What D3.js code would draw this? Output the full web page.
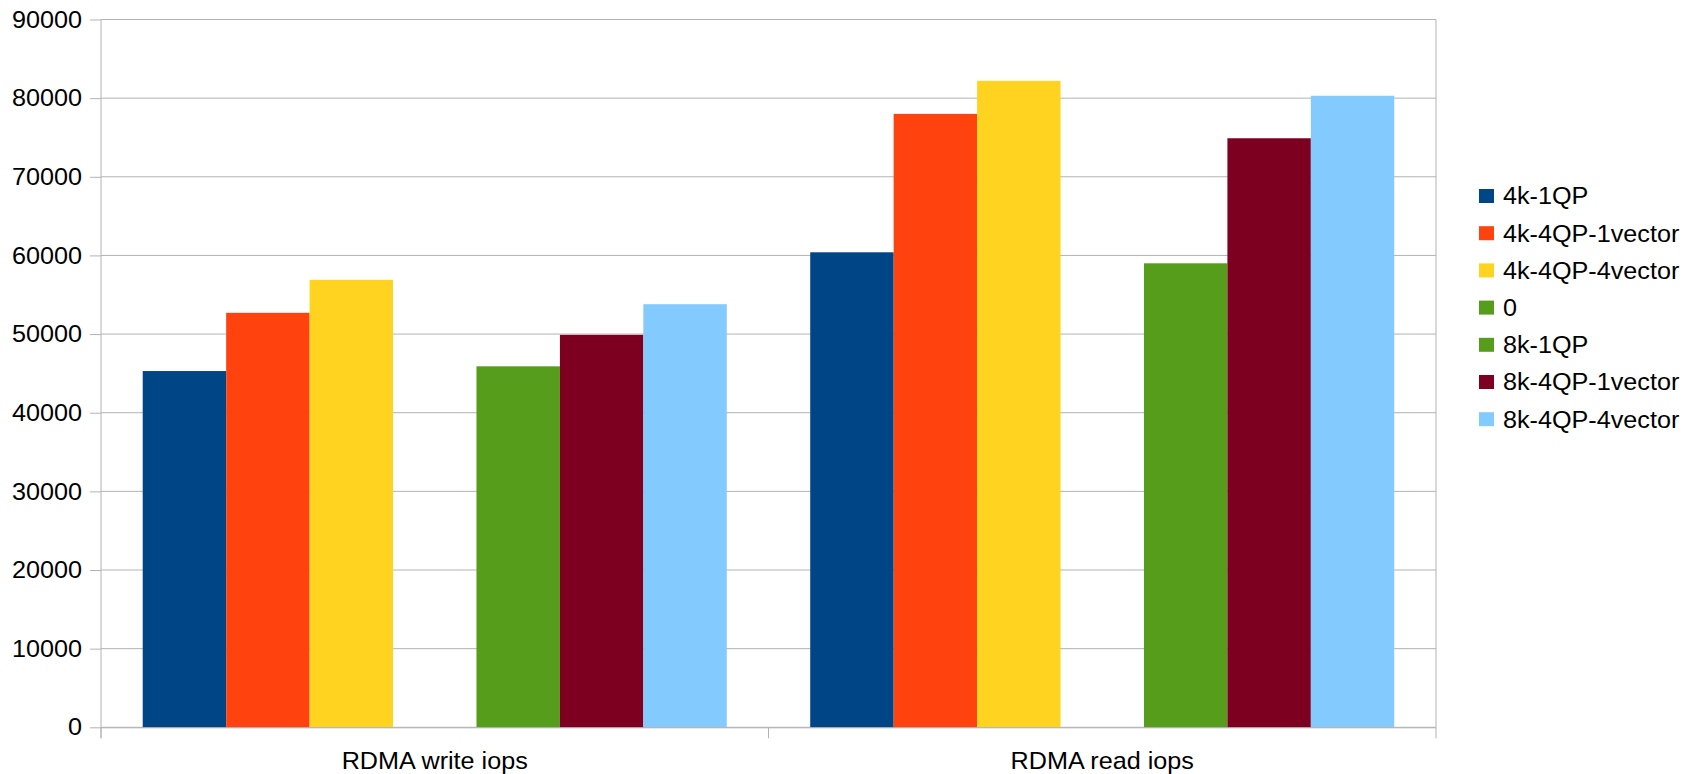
<!DOCTYPE html>
<html>
<head>
<meta charset="utf-8">
<script src="https://cdn.jsdelivr.net/npm/d3@7/dist/d3.min.js"></script>
<style>
  html, body { margin: 0; padding: 0; background: #ffffff; }
  svg { display: block; }
  text { font-family: "Liberation Sans", Arial, sans-serif; fill: #000000; }
</style>
</head>
<body>
<svg id="chart" width="1698" height="774"></svg>
<script>
// Categories along the x axis
const categories = ["RDMA write iops", "RDMA read iops"];

// Series names (legend order) and their colours
const seriesNames = ["4k-1QP", "4k-4QP-1vector", "4k-4QP-4vector", "0", "8k-1QP", "8k-4QP-1vector", "8k-4QP-4vector"];
const seriesColors = ["#004586", "#ff420e", "#ffd320", "#579d1c", "#579d1c", "#7e0021", "#83caff"];

// IOPS per series, one value per category (series "0" has no data)
const s4k1QP        = [45300, 60400];
const s4k4QP1vector = [52700, 78000];
const s4k4QP4vector = [56900, 82200];
const sZero         = [null, null];
const s8k1QP        = [45900, 59000];
const s8k4QP1vector = [49900, 74900];
const s8k4QP4vector = [53800, 80300];
const seriesValues = [s4k1QP, s4k4QP1vector, s4k4QP4vector, sZero, s8k1QP, s8k4QP1vector, s8k4QP4vector];

// Y axis tick values
const yTicks = [0, 10000, 20000, 30000, 40000, 50000, 60000, 70000, 80000, 90000];

const svg = d3.select("#chart");
const plot = { left: 101, right: 1436, top: 19.5, bottom: 727.3 };
const fontSize = 24;
const stretch = 1.05;   // slightly wide glyphs
const gridColor = "#b3b3b3";

// Widen a text element horizontally about its own anchor x
function widen(sel) {
  sel.each(function () {
    const ax = +this.getAttribute("x") || 0;
    d3.select(this).attr("transform", `translate(${ax},0) scale(${stretch},1) translate(${-ax},0)`);
  });
}

const y = d3.scaleLinear().domain([0, 90000]).range([plot.bottom, plot.top]);
const x0 = d3.scaleBand().domain(categories).range([plot.left, plot.right]).paddingInner(0).paddingOuter(0);
// Gap on each side of a group equals half a bar width
const x1 = d3.scaleBand().domain(d3.range(seriesNames.length))
  .range([0, x0.bandwidth()]).paddingInner(0).paddingOuter(0.5);

// Y axis labels with short ticks
const yAxis = d3.axisLeft(y).tickValues(yTicks).tickSize(11).tickPadding(8).tickFormat(d3.format("d"));
const gy = svg.append("g").attr("transform", `translate(${plot.left},0)`).call(yAxis);
gy.select(".domain").remove();
gy.selectAll(".tick line").attr("stroke", gridColor).attr("stroke-width", 1);
gy.selectAll(".tick text").attr("font-size", fontSize).attr("font-family", "Liberation Sans, Arial, sans-serif")
  .attr("fill", "#000").call(widen);

// Horizontal grid lines
svg.append("g").selectAll("line").data(yTicks).join("line")
  .attr("x1", plot.left).attr("x2", plot.right)
  .attr("y1", d => y(d)).attr("y2", d => y(d))
  .attr("stroke", gridColor).attr("stroke-width", 1);

// Plot frame: left and right verticals
svg.append("line").attr("x1", plot.left).attr("x2", plot.left).attr("y1", plot.top).attr("y2", plot.bottom + 11)
  .attr("stroke", gridColor);
svg.append("line").attr("x1", plot.right).attr("x2", plot.right).attr("y1", plot.top).attr("y2", plot.bottom)
  .attr("stroke", gridColor);

// Bars
const groups = svg.append("g").selectAll("g").data(categories).join("g")
  .attr("transform", c => `translate(${x0(c)},0)`);
groups.selectAll("rect")
  .data((c, ci) => seriesValues.map((vals, si) => ({ si, v: vals[ci] })).filter(d => d.v != null))
  .join("rect")
  .attr("x", d => x1(d.si))
  .attr("width", x1.bandwidth())
  .attr("y", d => y(d.v))
  .attr("height", d => y(0) - y(d.v))
  .attr("fill", d => seriesColors[d.si]);

// X axis with category ticks at band boundaries
const xAxis = d3.axisBottom(x0).tickSize(0).tickPadding(25);
const gx = svg.append("g").attr("transform", `translate(0,${plot.bottom})`).call(xAxis);
gx.select(".domain").attr("stroke", gridColor).attr("d", `M${plot.left},0.5H${plot.right}`);
gx.selectAll(".tick text").attr("font-size", fontSize).attr("font-family", "Liberation Sans, Arial, sans-serif")
  .attr("fill", "#000").call(widen);
const bounds = [plot.left, x0(categories[1]), plot.right];
svg.append("g").selectAll("line").data(bounds).join("line")
  .attr("x1", d => d).attr("x2", d => d)
  .attr("y1", plot.bottom).attr("y2", plot.bottom + 11)
  .attr("stroke", gridColor);

// Legend
const legend = svg.append("g").attr("transform", "translate(1479,189)");
const rows = legend.selectAll("g").data(seriesNames).join("g")
  .attr("transform", (d, i) => `translate(0,${i * 37.2})`);
rows.append("rect").attr("width", 15).attr("height", 14).attr("fill", (d, i) => seriesColors[i]);
rows.append("text").attr("x", 24).attr("y", 15.3).attr("font-size", fontSize).text(d => d).call(widen);
</script>
</body>
</html>
